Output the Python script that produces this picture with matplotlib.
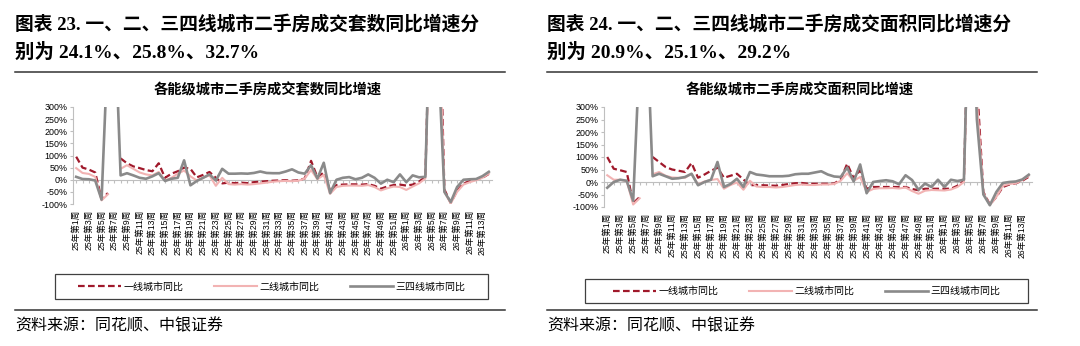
import numpy as np
import matplotlib.pyplot as plt
from matplotlib.lines import Line2D
from matplotlib.patches import Rectangle

plt.rcParams['font.family'] = ['Liberation Sans', 'Noto Sans CJK SC']

nan = np.nan

# weekly categories: 2025 W1-W52, 2026 W1-W14
weeks = [f'25年第{w}周' for w in range(1, 53)] + [f'26年第{w}周' for w in range(1, 15)]

# YoY growth of second-hand housing deals (units), %
units_tier1 = [95, 50, 42, 30, -80, -55, nan, 88, 68, 55, 48, 40, 35, 68, 8, 25, 35, 50, 45, 10,
               20, 32, 8, -15, -12, -14, -12, -14, -10, -8, -6, -4, -3, -2, -4, -2, 5, 78, 10, 30,
               -45, -22, -20, -19, -19, -20, -18, -25, -37, -28, -22, -20, -24, -20, -8, 12, 1000, 1000,
               -40, -96, -45, -16, -5, 2, 8, 24.1]
units_tier2 = [48, 28, 24, 12, -85, -60, nan, 45, 60, 45, 30, 22, 18, 32, -3, 8, 25, 38, 14, -3,
               8, 18, -25, 8, -18, -20, -18, -20, -18, -15, -12, -8, -6, -5, -6, -4, 5, 40, 2, 20,
               -58, -30, -25, -24, -24, -25, -22, -30, -44, -35, -28, -30, -42, -28, -15, 5, 950, 800,
               -50, -98, -50, -20, -10, -2, 8, 25.8]
units_tier34 = [12, 3, 2, -3, -82, 560, 720, 18, 27, 18, 8, 4, 14, 27, -5, 4, 8, 80, -23, -5,
                8, 22, -3, 45, 25, 25, 26, 25, 28, 34, 28, 27, 27, 34, 43, 30, 25, 60, 5, 70,
                -55, 0, 8, 11, 2, 8, 22, 8, -16, 0, -10, 22, -10, 18, 10, 12, 980, 530,
                -50, -92, -30, 0, 2, 3, 15, 32.7]

# YoY growth of second-hand housing deals (floor area), %
area_tier1 = [100, 53, 47, 40, -85, -60, nan, 100, 80, 60, 50, 45, 40, 76, 17, 30, 45, 57, 17, 25,
              33, 10, -13, -12, -13, -14, -15, -12, -8, -5, -4, -7, -7, -7, -7, -6, 10, 73, 15, 47,
              -27, -20, -20, -20, -20, -20, -20, -28, -33, -27, -27, -27, -27, -27, -15, 5, 1000, 400,
              -40, -90, -60, -20, -10, -5, 5, 20.9]
area_tier2 = [27, 9, 9, 4, -90, -65, nan, 31, 40, 25, 18, 17, 17, 33, -9, 2, 8, 12, -27, -12,
              -2, -31, 5, -18, -20, -20, -22, -20, -16, -12, -10, -12, -12, -10, -10, -8, 5, 35, 5, 20,
              -40, -28, -25, -25, -24, -26, -22, -36, -47, -35, -32, -33, -34, -30, -20, 0, 900, 330,
              -45, -92, -60, -15, -8, -5, 8, 25.1]
area_tier34 = [-23, 0, 9, 5, -75, 520, 700, 23, 33, 23, 13, 15, 20, 33, -13, 0, 9, 80, -20, -8,
               13, -20, 40, 30, 27, 23, 23, 23, 25, 31, 33, 33, 38, 43, 30, 22, 20, 58, 2, 70,
               -45, 0, 4, 7, 3, -9, 27, 8, -31, -6, -20, 9, -20, 9, 4, 9, 1000, 250,
               -50, -93, -40, -4, 0, 2, 10, 29.2]

series_names = ['一线城市同比', '二线城市同比', '三四线城市同比']
colors = ['#A0192B', '#F2B3B3', '#8A8A8A']
widths = [1.6, 1.5, 1.9]
styles = [(0, (3, 1.5)), '-', '-']

W, H = 1080, 346
fig = plt.figure(figsize=(W / 100, H / 100), dpi=100)


def fx(px):
    return px / W


def fy(py):
    return 1 - py / H


def draw_panel(x0, ax_box, num, heading2, chart_title, data, legend_box):
    # heading above the chart
    fig.text(fx(x0), fy(24), f'图表 {num}. 一、二、三四线城市二手房成交{heading2[0]}同比增速分',
             fontsize=13.5, weight='bold', family=['Liberation Serif', 'Noto Sans CJK SC'],
             va='center', ha='left')
    fig.text(fx(x0), fy(52), f'别为 {heading2[1]}', fontsize=14, weight='bold',
             family=['Liberation Serif', 'Noto Sans CJK SC'], va='center', ha='left')
    fig.add_artist(Line2D([fx(x0), fx(x0 + 490)], [fy(72), fy(72)], transform=fig.transFigure,
                          color='#333333', lw=1.1))

    fig.text(fx(x0 + 253), fy(90), chart_title, fontsize=10.3, weight='bold',
             ha='center', va='center')

    left, top, right, bottom = ax_box
    ax = fig.add_axes([fx(left), fy(bottom), fx(right - left), (bottom - top) / H])
    x = np.arange(len(weeks))
    for vals, c, lw, ls in zip(data, colors, widths, styles):
        ax.plot(x, vals, color=c, lw=lw, linestyle=ls)

    ax.set_xlim(-0.5, len(weeks) - 0.5)
    ax.set_ylim(-100, 300)
    yt = list(range(-100, 301, 50))
    ax.set_yticks(yt)
    ax.set_yticklabels([f'{v}%' for v in yt], fontsize=6.4)
    ax.set_xticks(x[::2])
    ax.set_xticklabels(weeks[::2], rotation=90, fontsize=6.2)
    ax.tick_params(axis='x', length=0, pad=4)
    ax.tick_params(axis='y', length=2, pad=2, color='#bfbfbf')
    for s in ['top', 'right', 'bottom']:
        ax.spines[s].set_visible(False)
    ax.spines['left'].set_color('#bfbfbf')
    ax.spines['left'].set_linewidth(0.8)

    # category axis crossing at 0%
    zero = ax.secondary_xaxis(0.25)
    zero.set_xticks(x)
    zero.tick_params(axis='x', length=2, color='#bfbfbf', labelbottom=False)
    zero.spines['bottom'].set_color('#bfbfbf')
    zero.spines['bottom'].set_linewidth(0.8)

    # legend inside a plain box
    bl, bt, br, bb = legend_box
    fig.add_artist(Rectangle((fx(bl), fy(bb)), fx(br - bl), (bb - bt) / H,
                             transform=fig.transFigure, fill=False, edgecolor='#404040', lw=0.9))
    handles = [Line2D([0], [0], color=c, lw=lw, linestyle=ls)
               for c, lw, ls in zip(colors, widths, styles)]
    fig.legend(handles, series_names, loc='center', ncol=3, frameon=False,
               bbox_to_anchor=(fx((bl + br) / 2), fy((bt + bb) / 2)),
               fontsize=7.2, handlelength=4.3, handletextpad=0.3, columnspacing=3)

    fig.add_artist(Line2D([fx(x0), fx(x0 + 490)], [fy(310), fy(310)], transform=fig.transFigure,
                          color='#333333', lw=1.1))
    fig.text(fx(x0), fy(326), '资料来源：同花顺、中银证券', fontsize=11.5, style='italic',
             ha='left', va='center')


draw_panel(15, (73, 107, 492, 204), 23, ('套数', '24.1%、25.8%、32.7%'),
           '各能级城市二手房成交套数同比增速',
           [units_tier1, units_tier2, units_tier34], (55, 274, 488, 299))
draw_panel(547, (604, 107, 1032, 207), 24, ('面积', '20.9%、25.1%、29.2%'),
           '各能级城市二手房成交面积同比增速',
           [area_tier1, area_tier2, area_tier34], (585, 279, 1028, 303))

fig.savefig('out.png', dpi=100)
